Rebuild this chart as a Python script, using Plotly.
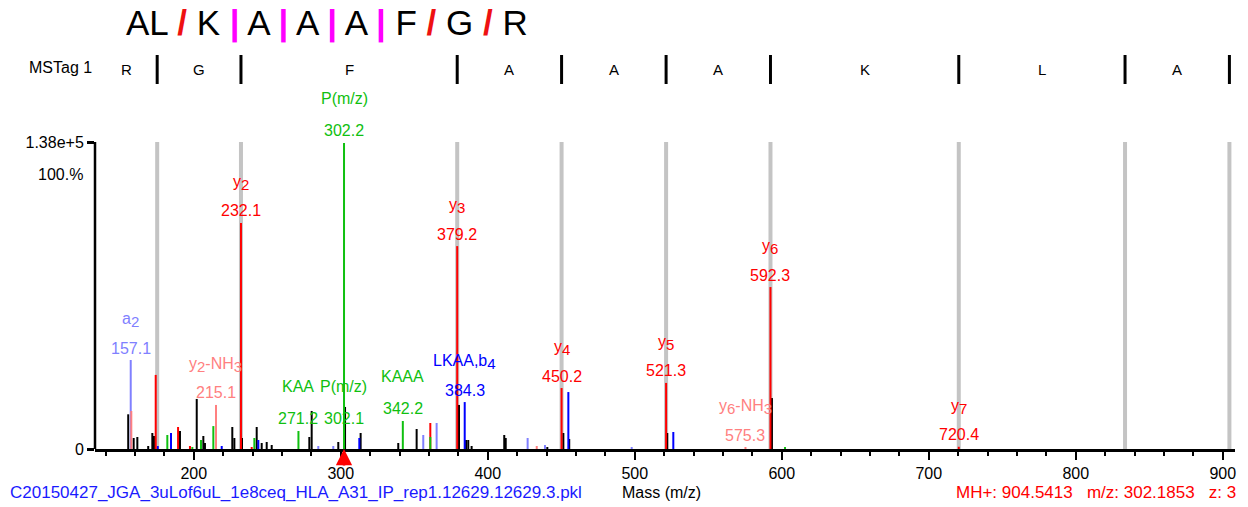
import plotly.graph_objects as go

# ---------------- data ----------------
BLACK_MZ = [155.4, 159.1, 161.6, 169.0, 171.8, 172.9, 190.6, 202.0, 206.5, 207.6, 226.2, 227.6,
            232.8, 242.8, 246.2, 249.6, 253.0, 278.6, 280.2, 298.3, 302.9, 313.5, 339.1, 351.6,
            380.4, 385.2, 386.7, 389.0, 411.2, 412.2, 440.5, 451.4, 455.4, 522.1, 593.3]
BLACK_INT = [15600, 4950, 5400, 1350, 7200, 5850, 8100, 22500, 5850, 2700, 9900, 4950,
             4950, 9900, 2700, 3150, 1800, 5400, 17100, 3150, 18900, 7200, 2700, 9000,
             19800, 4050, 4050, 1350, 6300, 4950, 900, 7200, 4500, 7200, 22900]

LIGHTBLUE_MZ = [157.1, 284.7, 294.9, 356.1, 365.2, 427.1, 438.9, 497.9]
LIGHTBLUE_INT = [40000, 1350, 1350, 6300, 11700, 4950, 1800, 900]

LIGHTRED_MZ = [157.5, 215.1, 433.3, 575.3]
LIGHTRED_INT = [17100, 19800, 1350, 900]

BLUE_MZ = [175.5, 184.5, 219.0, 243.9, 312.6, 384.3, 454.8, 526.2]
BLUE_INT = [1350, 7200, 1350, 4050, 4950, 21100, 25600, 7650]

RED_MZ = [174.1, 189.3, 197.4, 232.1, 239.4, 360.9, 379.2, 450.2, 521.3, 592.3, 720.4]
RED_INT = [33300, 9900, 1350, 101600, 900, 11700, 91200, 27400, 29700, 72800, 1000]

GREEN_MZ = [182.0, 199.0, 204.9, 213.3, 241.2, 271.2, 302.2, 342.2, 360.9, 602.2]
GREEN_INT = [6300, 900, 4050, 10300, 4950, 8100, 137600, 12600, 5400, 900]

# peak labels (ion name, subscript parts marked with _)
LABEL_MZ = [157.1, 215.1, 232.1, 271.2, 302.2, 302.1, 342.2, 379.2, 384.3, 450.2, 521.3, 592.3, 575.3, 720.4]
LABEL_AT = [40000, 19800, 101600, 8100, 137600, 8100, 12600, 91200, 21100, 27400, 29700, 72800, 900, 1000]
LABEL_NAME = [["a", "_2"], ["y", "_2", "-NH", "_3"], ["y", "_2"], ["KAA"], ["P(m/z)"], ["P(m/z)"],
              ["KAAA"], ["y", "_3"], ["LKAA,b", "_4"], ["y", "_4"], ["y", "_5"], ["y", "_6"],
              ["y", "_6", "-NH", "_3"], ["y", "_7"]]
LABEL_VALUE = ["157.1", "215.1", "232.1", "271.2", "302.2", "302.1", "342.2", "379.2", "384.3",
               "450.2", "521.3", "592.3", "575.3", "720.4"]
LABEL_KIND = ["lightblue", "lightred", "red", "green", "green", "green", "green", "red", "blue",
              "red", "red", "red", "lightred", "red"]

# y-ion ladder (MSTag) boundaries and residues
LADDER_MZ = [175.1, 232.1, 379.2, 450.2, 521.3, 592.3, 720.4, 833.5, 904.5]
LADDER_RES = ["R", "G", "F", "A", "A", "A", "K", "L", "A"]

X_TICKS = [200, 300, 400, 500, 600, 700, 800, 900]
Y_MAX = 1.38e5
Y_100 = 1.236e5
PRECURSOR_MZ = 302.1853

SEQ_TOKENS = ["A", "L", "/", "K", "|", "A", "|", "A", "|", "A", "|", "F", "/", "G", "/", "R"]

FILENAME = "C20150427_JGA_3uLof6uL_1e8ceq_HLA_A31_IP_rep1.12629.12629.3.pkl"
INFO_RIGHT = "MH+: 904.5413\u00a0\u00a0\u00a0m/z: 302.1853\u00a0\u00a0\u00a0z: 3"

# ---------------- styling ----------------
COLORS = {"black": "#000000", "lightblue": "#8080ff", "lightred": "#ff8080",
          "blue": "#0000ff", "red": "#ff0000", "green": "#10c010"}
FONT = "Liberation Sans, Arial, sans-serif"
LABEL_SIZE = 16
X_RANGE = [132.8, 908.3]
Y_TOP = Y_MAX * 409 / 307
W, H = 1248, 507
PLOT_W = 1140.0
PLOT_H = 409.0
PLOT_LEFT = 95
PLOT_BOTTOM = 449


def px_x(p):
    return (p - PLOT_LEFT) / PLOT_W


def px_y(p):
    return (PLOT_BOTTOM - p) / PLOT_H


def name_html(parts):
    out = ""
    for p in parts:
        if p.startswith("_"):
            out += "<sub><span style='font-size:%dpx'>%s</span></sub>" % (LABEL_SIZE - 1, p[1:])
        else:
            out += p
    return out


fig = go.Figure()


def sticks(mz, inten):
    xs, ys = [], []
    for m, h in zip(mz, inten):
        xs += [m, m, None]
        ys += [0, h, None]
    return xs, ys


for name, mz, inten in [("black", BLACK_MZ, BLACK_INT), ("lightblue", LIGHTBLUE_MZ, LIGHTBLUE_INT),
                        ("lightred", LIGHTRED_MZ, LIGHTRED_INT), ("blue", BLUE_MZ, BLUE_INT),
                        ("red", RED_MZ, RED_INT), ("green", GREEN_MZ, GREEN_INT)]:
    xs, ys = sticks(mz, inten)
    fig.add_trace(go.Scatter(x=xs, y=ys, mode="lines", line=dict(color=COLORS[name], width=2),
                             hoverinfo="skip", showlegend=False))

shapes = []
annotations = []

# gray ladder lines and MSTag markers
for m in LADDER_MZ:
    shapes.append(dict(type="line", xref="x", yref="y", x0=m, x1=m, y0=0, y1=Y_MAX,
                       line=dict(color="#c4c4c4", width=4), layer="below"))
    shapes.append(dict(type="line", xref="x", yref="paper", x0=m, x1=m, y0=px_y(84), y1=px_y(55),
                       line=dict(color="black", width=3)))

# y axis line (only up to Y_MAX)
shapes.append(dict(type="line", xref="paper", yref="y", x0=0, x1=0, y0=0, y1=Y_MAX,
                   line=dict(color="black", width=2.5)))

# MSTag residue labels
bounds = [X_RANGE[0]] + LADDER_MZ
for i, res in enumerate(LADDER_RES):
    annotations.append(dict(x=(bounds[i] + bounds[i + 1]) / 2, y=px_y(69), xref="x", yref="paper",
                            text=res, showarrow=False, xanchor="center", yanchor="middle",
                            font=dict(size=15, color="black", family=FONT)))
annotations.append(dict(x=px_x(60), y=px_y(67), xref="paper", yref="paper", text="MSTag 1",
                        showarrow=False, xanchor="center", yanchor="middle",
                        font=dict(size=16, color="black", family=FONT)))

# peak labels
for m, h, nm, val, kind in zip(LABEL_MZ, LABEL_AT, LABEL_NAME, LABEL_VALUE, LABEL_KIND):
    c = COLORS[kind]
    has_sub = any(p.startswith("_") for p in nm)
    annotations.append(dict(x=m, y=h, xref="x", yref="y", text=val, showarrow=False,
                            xanchor="center", yanchor="middle", yshift=12,
                            font=dict(size=LABEL_SIZE, color=c, family=FONT)))
    annotations.append(dict(x=m, y=h, xref="x", yref="y", text=name_html(nm), showarrow=False,
                            xanchor="center", yanchor="bottom", yshift=28 if has_sub else 34,
                            font=dict(size=LABEL_SIZE, color=c, family=FONT)))

# 100.% label
annotations.append(dict(x=0, y=Y_100, xref="paper", yref="y", text="100.%", showarrow=False,
                        xanchor="right", yanchor="middle", xshift=-10,
                        font=dict(size=16, color="black", family=FONT)))

# precursor arrow
annotations.append(dict(x=PRECURSOR_MZ, y=0, xref="x", yref="y", text="", showarrow=True,
                        ax=0, ay=18, arrowhead=2, arrowsize=1.3, arrowwidth=2.5, arrowcolor="#ff0000"))

# sequence at top
seq_html = ""
for tok in SEQ_TOKENS:
    if tok == "/":
        seq_html += " <span style='color:#ee1111'><b>/</b></span> "
    elif tok == "|":
        seq_html += " <span style='color:#ff00ff'><b>|</b></span> "
    else:
        seq_html += tok
annotations.append(dict(x=px_x(124), y=px_y(23), xref="paper", yref="paper", text=seq_html,
                        showarrow=False, xanchor="left", yanchor="middle",
                        font=dict(size=35, color="black", family=FONT)))

# bottom text
annotations.append(dict(x=px_x(8), y=px_y(492), xref="paper", yref="paper", text=FILENAME,
                        showarrow=False, xanchor="left", yanchor="middle",
                        font=dict(size=17, color="#1a1aff", family=FONT)))
annotations.append(dict(x=px_x(661), y=px_y(492), xref="paper", yref="paper", text="Mass (m/z)",
                        showarrow=False, xanchor="center", yanchor="middle",
                        font=dict(size=16, color="black", family=FONT)))
annotations.append(dict(x=px_x(1238), y=px_y(492), xref="paper", yref="paper", text=INFO_RIGHT,
                        showarrow=False, xanchor="right", yanchor="middle",
                        font=dict(size=17, color="#ff0000", family=FONT)))

fig.update_layout(
    width=W, height=H,
    margin=dict(l=PLOT_LEFT, r=W - PLOT_LEFT - int(PLOT_W),
                t=PLOT_BOTTOM - int(PLOT_H), b=H - PLOT_BOTTOM),
    paper_bgcolor="white", plot_bgcolor="white",
    showlegend=False,
    shapes=shapes, annotations=annotations,
    xaxis=dict(range=X_RANGE, tickvals=X_TICKS, ticks="outside", ticklen=8, tickwidth=2,
               tickcolor="black", showline=True, linecolor="black", linewidth=2.5,
               showgrid=False, zeroline=False,
               minor=dict(dtick=20, tick0=0, ticks="outside", ticklen=4, tickwidth=1.5, tickcolor="black"),
               tickfont=dict(size=16, color="black", family=FONT)),
    yaxis=dict(range=[0, Y_TOP], tickvals=[0, Y_MAX], ticktext=["0", "1.38e+5"], ticks="outside",
               ticklen=7, tickwidth=2.5, tickcolor="black", showline=False, showgrid=False,
               zeroline=False, tickfont=dict(size=16, color="black", family=FONT)),
)

# remove the default page margin so the figure fills the window
fig.write_html("out.html", config={"displayModeBar": False},
               post_script="document.body.style.margin='0px';")
